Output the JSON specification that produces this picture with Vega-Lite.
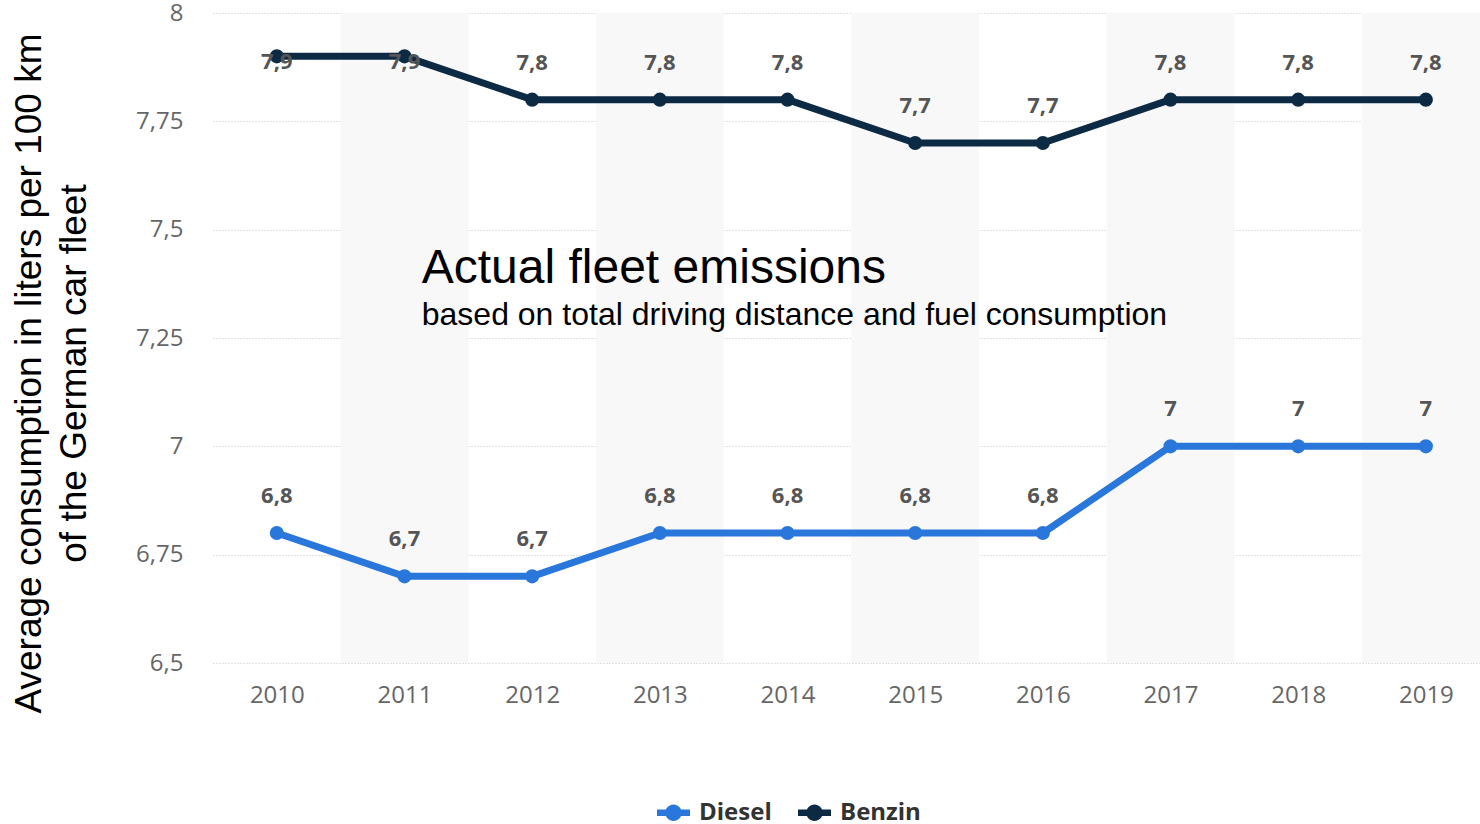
{
  "$schema": "https://vega.github.io/schema/vega-lite/v6.json",
  "width": 1267,
  "height": 650,
  "autosize": {"type": "none"},
  "padding": {"left": 213, "top": 13, "right": 0, "bottom": 161},
  "background": "white",
  "config": {
    "view": {"stroke": null},
    "locale": {"number": {"decimal": ",", "thousands": ".", "grouping": [3], "currency": ["", " €"]}},
    "axis": {"domain": false, "ticks": false, "labelFont": "Open Sans", "labelFontSize": 24, "labelColor": "#666666"},
    "axisY": {"grid": true, "gridColor": "#c4c4c4", "gridDash": [1, 2], "gridWidth": 1, "labelPadding": 30},
    "axisX": {"grid": false, "labelPadding": 20}
  },
  "datasets": {
    "fleet": [
      {"year": 2010, "fuel": "Diesel", "value": 6.8},
      {"year": 2011, "fuel": "Diesel", "value": 6.7},
      {"year": 2012, "fuel": "Diesel", "value": 6.7},
      {"year": 2013, "fuel": "Diesel", "value": 6.8},
      {"year": 2014, "fuel": "Diesel", "value": 6.8},
      {"year": 2015, "fuel": "Diesel", "value": 6.8},
      {"year": 2016, "fuel": "Diesel", "value": 6.8},
      {"year": 2017, "fuel": "Diesel", "value": 7.0},
      {"year": 2018, "fuel": "Diesel", "value": 7.0},
      {"year": 2019, "fuel": "Diesel", "value": 7.0},
      {"year": 2010, "fuel": "Benzin", "value": 7.9},
      {"year": 2011, "fuel": "Benzin", "value": 7.9},
      {"year": 2012, "fuel": "Benzin", "value": 7.8},
      {"year": 2013, "fuel": "Benzin", "value": 7.8},
      {"year": 2014, "fuel": "Benzin", "value": 7.8},
      {"year": 2015, "fuel": "Benzin", "value": 7.7},
      {"year": 2016, "fuel": "Benzin", "value": 7.7},
      {"year": 2017, "fuel": "Benzin", "value": 7.8},
      {"year": 2018, "fuel": "Benzin", "value": 7.8},
      {"year": 2019, "fuel": "Benzin", "value": 7.8}
    ],
    "bands": [
      {"year": 2011}, {"year": 2013}, {"year": 2015}, {"year": 2017}, {"year": 2019}
    ]
  },
  "layer": [
    {
      "data": {"name": "bands"},
      "mark": {"type": "bar", "width": 127.67, "color": "#f8f8f8", "clip": true},
      "encoding": {
        "x": {"field": "year", "type": "quantitative"},
        "y": {"datum": 8, "type": "quantitative"},
        "y2": {"datum": 6.5}
      }
    },
    {
      "data": {"name": "fleet"},
      "mark": {"type": "line", "strokeWidth": 7, "strokeJoin": "round"},
      "encoding": {
        "x": {"field": "year", "type": "quantitative", "title": null,
              "scale": {"domain": [2009.5, 2019.424], "nice": false, "zero": false, "padding": 0},
              "axis": {"values": [2010, 2011, 2012, 2013, 2014, 2015, 2016, 2017, 2018, 2019], "format": "d"}},
        "y": {"field": "value", "type": "quantitative",
              "title": ["Average consumption in liters per 100 km", "of the German car fleet"],
              "scale": {"domain": [6.5, 8], "nice": false, "zero": false, "padding": 0},
              "axis": {"values": [6.5, 6.75, 7, 7.25, 7.5, 7.75, 8], "format": ".3~g",
                       "titleFont": "Liberation Sans", "titleFontSize": 37, "titleFontWeight": "normal",
                       "titleColor": "#000000", "titleLineHeight": 45, "titleAngle": -90,
                       "titleAlign": "center", "titleBaseline": "top", "titleX": -202, "titleY": 360}},
        "color": {"field": "fuel", "type": "nominal",
                  "scale": {"domain": ["Diesel", "Benzin"], "range": ["#2a77dc", "#0d2a45"]},
                  "legend": {"orient": "none", "legendX": 444, "legendY": 783, "direction": "horizontal",
                             "title": null, "padding": 0,
                             "symbolType": "M-1,-0.2L1,-0.2L1,0.2L-1,0.2Z M0,-0.5A0.5,0.5,0,1,1,0,0.5A0.5,0.5,0,1,1,0,-0.5Z",
                             "symbolSize": 1089, "symbolStrokeWidth": 0,
                             "labelFont": "Open Sans", "labelFontSize": 24, "labelFontWeight": "bold",
                             "labelColor": "#333333", "labelOffset": 9, "columnPadding": 26,
                             "encode": {"symbols": {"update": {"fill": {"scale": "color", "field": "value"}, "fillOpacity": {"value": 1}, "opacity": {"value": 1}}}}}}
      }
    },
    {
      "data": {"name": "fleet"},
      "mark": {"type": "point", "filled": true, "size": 200, "opacity": 1},
      "encoding": {
        "x": {"field": "year", "type": "quantitative"},
        "y": {"field": "value", "type": "quantitative"},
        "color": {"field": "fuel", "type": "nominal"}
      }
    },
    {
      "data": {"name": "fleet"},
      "transform": [{"filter": "datum.value < 7.85"}],
      "mark": {"type": "text", "dy": -37, "baseline": "middle", "align": "center", "font": "Open Sans", "fontSize": 22, "fontWeight": "bold", "color": "#555555"},
      "encoding": {
        "x": {"field": "year", "type": "quantitative"},
        "y": {"field": "value", "type": "quantitative"},
        "text": {"field": "value", "type": "quantitative", "format": "~g"}
      }
    },
    {
      "data": {"name": "fleet"},
      "transform": [{"filter": "datum.value >= 7.85"}],
      "mark": {"type": "text", "dy": 6, "baseline": "middle", "align": "center", "font": "Open Sans", "fontSize": 22, "fontWeight": "bold", "color": "#555555"},
      "encoding": {
        "x": {"field": "year", "type": "quantitative"},
        "y": {"field": "value", "type": "quantitative"},
        "text": {"field": "value", "type": "quantitative", "format": "~g"}
      }
    },
    {
      "data": {"values": [{"label": "Actual fleet emissions"}]},
      "mark": {"type": "text", "align": "left", "baseline": "alphabetic", "font": "Liberation Sans", "fontSize": 48, "color": "#000000"},
      "encoding": {
        "x": {"datum": 2011.135, "type": "quantitative"},
        "y": {"datum": 7.377, "type": "quantitative"},
        "text": {"field": "label"}
      }
    },
    {
      "data": {"values": [{"label": "based on total driving distance and fuel consumption"}]},
      "mark": {"type": "text", "align": "left", "baseline": "alphabetic", "font": "Liberation Sans", "fontSize": 32, "color": "#000000"},
      "encoding": {
        "x": {"datum": 2011.135, "type": "quantitative"},
        "y": {"datum": 7.28, "type": "quantitative"},
        "text": {"field": "label"}
      }
    }
  ]
}
